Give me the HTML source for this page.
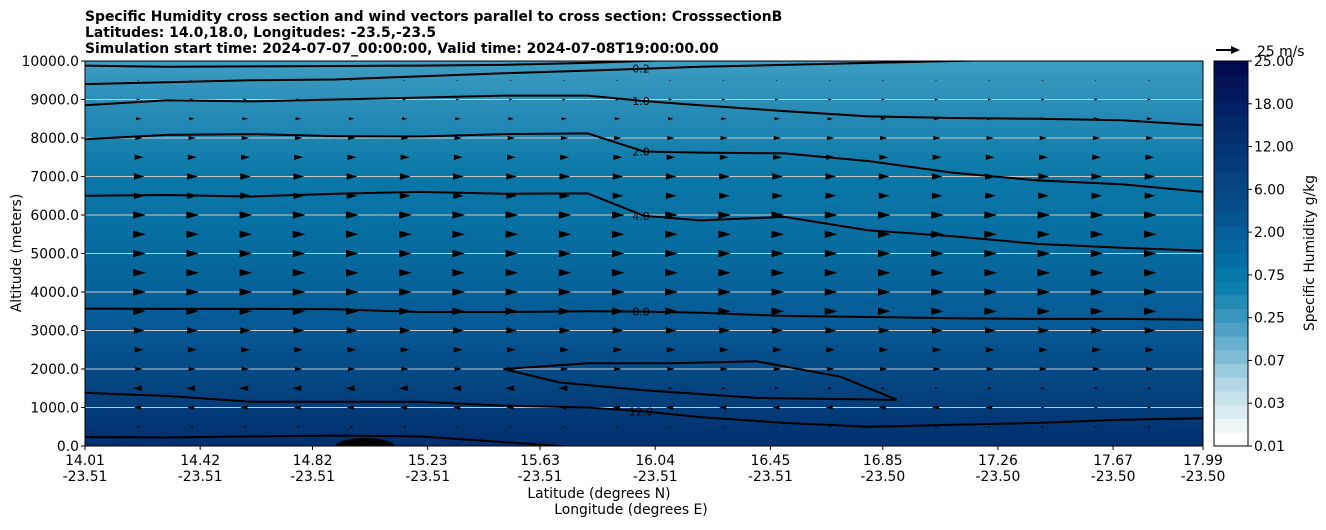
<!DOCTYPE html>
<html><head><meta charset="utf-8"><style>
body{margin:0;background:#fff;font-family:"DejaVu Sans","Liberation Sans",sans-serif;}
svg text{font-family:"DejaVu Sans","Liberation Sans",sans-serif;}
</style></head><body>
<svg id="chart" width="1326" height="526" xmlns="http://www.w3.org/2000/svg">
<defs>
<linearGradient id="bg" x1="0" y1="0" x2="0" y2="1">
<stop offset="0" stop-color="#3e9dc2"/>
<stop offset="0.1" stop-color="#2c8fb8"/>
<stop offset="0.3" stop-color="#0a78a8"/>
<stop offset="0.5" stop-color="#066a9e"/>
<stop offset="0.7" stop-color="#065894"/>
<stop offset="0.85" stop-color="#04437f"/>
<stop offset="1" stop-color="#022e6e"/>
</linearGradient>
<clipPath id="pc"><rect x="85" y="61" width="1118" height="385"/></clipPath>
</defs>
<g font-weight="bold" font-size="13.9">
<text x="85" y="21">Specific Humidity cross section and wind vectors parallel to cross section: CrosssectionB</text>
<text x="85" y="37">Latitudes: 14.0,18.0, Longitudes: -23.5,-23.5</text>
<text x="85" y="53">Simulation start time: 2024-07-07_00:00:00, Valid time: 2024-07-08T19:00:00.00</text>
</g>
<rect x="85" y="61" width="1118" height="385" fill="url(#bg)"/>
<g id="grid"></g>
<g id="arrows" clip-path="url(#pc)"></g>
<g id="contours" clip-path="url(#pc)"></g>
<ellipse cx="365" cy="447" rx="30" ry="9" fill="#000" clip-path="url(#pc)"/>
<rect x="85" y="61" width="1118" height="385" fill="none" stroke="#000" stroke-width="1"/>
<g id="axes"></g>
<g id="cbar"></g>
<g>
<line x1="1216" y1="50" x2="1234" y2="50" stroke="#000" stroke-width="2"/>
<polygon points="1231,46 1240,50 1231,54" fill="#000"/>
<text x="1257" y="56" font-size="13.9">25 m/s</text>
</g>
<text transform="translate(21,253) rotate(-90)" text-anchor="middle" font-size="13.9">Altitude (meters)</text>
<text x="599" y="498" text-anchor="middle" font-size="13.9">Latitude (degrees N)</text>
<text x="631" y="514" text-anchor="middle" font-size="13.9">Longitude (degrees E)</text>
<text transform="translate(1314,253) rotate(-90)" text-anchor="middle" font-size="13.9">Specific Humidity g/kg</text>
</svg>
<script>
const NS="http://www.w3.org/2000/svg";
const latTicks=[14.01,14.42,14.82,15.23,15.63,16.04,16.45,16.85,17.26,17.67,17.99];
const lonTicks=["-23.51","-23.51","-23.51","-23.51","-23.51","-23.51","-23.51","-23.50","-23.50","-23.50","-23.50"];
const altTicks=[0,1000,2000,3000,4000,5000,6000,7000,8000,9000,10000];
const cbLevels=["0.01","0.03","0.07","0.25","0.75","2.00","6.00","12.00","18.00","25.00"];
const cbColors=["#ffffff","#eef5f8","#dcebf1","#c8e2ec","#b2d8e5","#9acbdd","#80bdd5","#66afcd","#4ea1c4","#3896bc","#238bb4","#0e80ad","#0478a8","#046ea2","#05669d","#055e97","#055690","#064e8a","#054883","#05427f","#043b79","#043574","#032f6f","#03296a","#032265","#021a5d","#021356","#010a50"];
const sampleLat=[14.01,14.3,14.6,14.9,15.2,15.5,15.8,16.0,16.2,16.5,16.8,17.1,17.4,17.7,17.99];
const c01=[9880,9850,9860,9870,9880,9900,9950,10000,10050,10050,10050,10050,10050,10050,10050];
const c02=[9400,9450,9500,9520,9600,9680,9750,9800,9850,9900,9950,10000,10050,10050,10050];
const c10=[8850,8980,8950,9000,9050,9100,9100,8960,8850,8700,8560,8520,8500,8460,8330];
const c20=[7970,8080,8100,8050,8040,8100,8120,7650,7620,7600,7400,7100,6900,6800,6600];
const c40=[6500,6520,6480,6550,6600,6550,6560,5980,5860,5950,5600,5450,5250,5150,5070];
const c80=[3570,3560,3560,3550,3480,3480,3500,3490,3460,3380,3350,3320,3300,3300,3280];
const c120=[1380,1300,1150,1150,1150,1050,1000,900,750,600,500,550,600,680,720];
const c160=[230,220,250,270,250,100,-50,-50,-50,-50,-50,-50,-50,-50,-50];
const contourSets=[[c01,"0.1"],[c02,"0.2"],[c10,"1.0"],[c20,"2.0"],[c40,"4.0"],[c80,"8.0"],[c120,"12.0"],[c160,"16"]];
const loopLat=[15.5,15.8,16.1,16.4,16.7,16.9,16.4,16.0,15.7,15.5];
const loopAlt=[2000,2150,2150,2200,1800,1200,1250,1450,1650,2000];
const windAlt=[500,1000,1500,2000,2500,3000,3500,4000,4500,5000,5500,6000,6500,7000,7500,8000,8500,9000,9500];
const windU=[-2,-4,-5,4,5,6,7,7,7,7,7,7,6,6,5,4,3,2,1];
const windUEast=[3,5,5,6,6,6,7,7,7,7,7,7,7,7,6,5,4,3,2];

const X0=85,X1=1203,Y0=446,Y1=61;
const xs=v=>X0+(v-14.01)/(17.99-14.01)*(X1-X0);
const ys=a=>Y0-a/10000*(Y0-Y1);
function el(t,a,p){const e=document.createElementNS(NS,t);for(const k in a)e.setAttribute(k,a[k]);p.appendChild(e);return e;}
const grid=document.getElementById('grid'),axes=document.getElementById('axes');
altTicks.forEach((a,i)=>{
 if(i>0&&i<altTicks.length-1){const g=el('line',{x1:X0,x2:X1,y1:ys(a),y2:ys(a),stroke:'#c8c8c8','stroke-width':1},grid);
 
 }
 el('line',{x1:X0-4,x2:X0,y1:ys(a),y2:ys(a),stroke:'#000'},axes);
 const t=el('text',{x:X0-6,y:ys(a)+5,'text-anchor':'end','font-size':13.9},axes);t.textContent=a.toFixed(1);
 
 
});
latTicks.forEach((v,i)=>{
 const x=xs(v);
 el('line',{x1:x,x2:x,y1:Y0,y2:Y0+4,stroke:'#000'},axes);
 const t=el('text',{x:x,y:465,'text-anchor':'middle','font-size':13.9},axes);t.textContent=v.toFixed(2);
 
 
 const t2=el('text',{x:x,y:481,'text-anchor':'middle','font-size':13.9},axes);t2.textContent=lonTicks[i];
 
 
});
const ag=document.getElementById('arrows');
for(let k=1;k<21;k++){
 const lat=14.01+k*(53.2/(X1-X0))*(17.99-14.01);
 const x=xs(lat);
 windAlt.forEach((a,r)=>{
  let u=windU[r];
  if(u<0){const lim=a>=1500?15.9:(a>=1000?17.4:15.3);if(lat>lim)u=windUEast[r]*0.3+0.5;}
  const L=Math.abs(u)*1.8,d=Math.sign(u)||1,y=ys(a);
  const p=el('polygon',{points:`${x-d*L*0.4},${y-L*0.3} ${x+d*L*0.6},${y} ${x-d*L*0.4},${y+L*0.3}`,fill:'#000'},ag);
  
  
 });
}
const cg=document.getElementById('contours');
contourSets.forEach(([arr,lab])=>{
 const d=arr.map((a,i)=>(i?'L':'M')+xs(sampleLat[i]).toFixed(1)+','+ys(a).toFixed(1)).join(' ');
 const p=el('path',{d:d,fill:'none',stroke:'#000','stroke-width':2,'stroke-linejoin':'round'},cg);
 
 
 const i=7,tx=xs(sampleLat[i])-3,ty=ys(arr[i]);
 if(ty>Y1+5&&ty<Y0){
 const t=el('text',{x:tx,y:ty+4,'font-size':11,'text-anchor':'middle',fill:'#000'},cg);t.textContent=lab;
 
 }
});
const lp=el('path',{d:loopLat.map((v,i)=>(i?'L':'M')+xs(v).toFixed(1)+','+ys(loopAlt[i]).toFixed(1)).join(' ')+'Z',fill:'none',stroke:'#000','stroke-width':2},cg);


const cb=document.getElementById('cbar');
const CX=1214,CW=34,n=cbColors.length,h=(Y0-Y1)/n;
cbColors.forEach((c,i)=>{const r=el('rect',{x:CX,y:Y0-(i+1)*h,width:CW,height:h+0.5,fill:c},cb);
 
 });
el('rect',{x:CX,y:Y1,width:CW,height:Y0-Y1,fill:'none',stroke:'#000'},cb);
cbLevels.forEach((l,i)=>{const y=Y0-i*(Y0-Y1)/(cbLevels.length-1);
 el('line',{x1:CX+CW,x2:CX+CW+4,y1:y,y2:y,stroke:'#000'},cb);
 const t=el('text',{x:CX+CW+6,y:y+5,'font-size':13.9},cb);t.textContent=l;
 
 });
</script>
</body></html>
